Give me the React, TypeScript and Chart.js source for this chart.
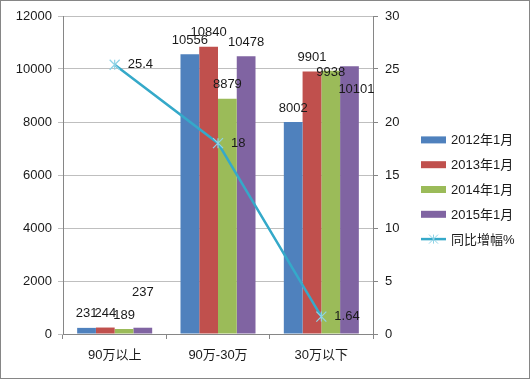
import React, { useEffect, useRef } from 'react';
import { Chart, registerables } from 'chart.js';

Chart.register(...registerables);

const categories = ['90万以上', '90万-30万', '30万以下'];
const seriesNames = ['2012年1月', '2013年1月', '2014年1月', '2015年1月'];
const series2012 = [231, 10556, 8002];
const series2013 = [244, 10840, 9901];
const series2014 = [189, 8879, 9938];
const series2015 = [237, 10478, 10101];
const lineName = '同比增幅%';
const growthPct = [25.4, 18, 1.64];

const leftMax = 12000;
const leftStep = 2000;
const rightMax = 30;
const rightStep = 5;

const barColors = ['#4F81BD', '#C0504D', '#9BBB59', '#8064A2'];
const lineColor = '#35A9C9';
const markerColor = '#8fd3e6';
const FONT = '"Liberation Sans", "Noto Sans CJK SC", sans-serif';
const TEXT = '#1a1a1a';

// label nudges (dataset-index) in px, mimicking the reference placement
const labelNudges: Record<string, [number, number]> = {
  '3-0': [0, -21],
  '2-2': [0, 16],
  '3-2': [7, 37],
};

function drawAsterisk(ctx: CanvasRenderingContext2D, cx: number, cy: number, r: number) {
  ctx.beginPath();
  ctx.moveTo(cx - r, cy - r); ctx.lineTo(cx + r, cy + r);
  ctx.moveTo(cx - r, cy + r); ctx.lineTo(cx + r, cy - r);
  ctx.moveTo(cx, cy - r); ctx.lineTo(cx, cy + r);
  ctx.stroke();
}

const labelsPlugin = {
  id: 'valueLabels',
  afterDatasetsDraw(chart: any) {
    const ctx = chart.ctx;
    ctx.save();
    chart.data.datasets.forEach((ds: any, di: number) => {
      const meta = chart.getDatasetMeta(di);
      meta.data.forEach((el: any, i: number) => {
        const v = ds.data[i];
        ctx.font = `13px ${FONT}`;
        ctx.fillStyle = TEXT;
        ctx.textBaseline = 'middle';
        if (ds.type === 'line') {
          ctx.strokeStyle = markerColor;
          ctx.lineWidth = 1.2;
          drawAsterisk(ctx, el.x, el.y, 5);
          ctx.textAlign = 'left';
          ctx.fillText(String(v), el.x + 13, el.y);
        } else {
          const n = labelNudges[`${di}-${i}`] || [0, 0];
          ctx.textAlign = 'center';
          ctx.fillText(String(v), el.x + n[0], el.y - 14 + n[1]);
        }
      });
    });
    ctx.restore();
  },
};

const legendPlugin = {
  id: 'customLegend',
  afterDraw(chart: any) {
    const ctx = chart.ctx;
    const x0 = chart.chartArea.right + 48;
    const rowH = 24.8;
    const items = [...seriesNames, lineName];
    const yStart = chart.height / 2 - (rowH * (items.length - 1)) / 2;
    ctx.save();
    ctx.font = `13px ${FONT}`;
    ctx.textBaseline = 'middle';
    ctx.textAlign = 'left';
    items.forEach((name, i) => {
      const y = yStart + i * rowH;
      if (i < seriesNames.length) {
        ctx.fillStyle = barColors[i];
        ctx.fillRect(x0, y - 3.5, 25, 7);
      } else {
        ctx.strokeStyle = lineColor;
        ctx.lineWidth = 2.5;
        ctx.beginPath();
        ctx.moveTo(x0, y);
        ctx.lineTo(x0 + 25, y);
        ctx.stroke();
        ctx.strokeStyle = markerColor;
        ctx.lineWidth = 1;
        drawAsterisk(ctx, x0 + 12.5, y, 4.5);
      }
      ctx.fillStyle = TEXT;
      ctx.fillText(name, x0 + 30, y + 1);
    });
    ctx.restore();
  },
};

export default function App() {
  const ref = useRef<HTMLCanvasElement | null>(null);
  useEffect(() => {
    document.body.style.margin = '0';
    if (!ref.current) return;
    const barSeries = [series2012, series2013, series2014, series2015];
    const chart = new Chart(ref.current, {
      type: 'bar',
      data: {
        labels: categories,
        datasets: [
          ...barSeries.map((d, i) => ({
            type: 'bar' as const,
            label: seriesNames[i],
            data: d,
            backgroundColor: barColors[i],
            yAxisID: 'y',
            order: 1,
            categoryPercentage: 0.726,
            barPercentage: 1,
          })),
          {
            type: 'line' as const,
            label: lineName,
            data: growthPct,
            borderColor: lineColor,
            borderWidth: 2.5,
            pointRadius: 0,
            yAxisID: 'y1',
            order: 0,
            tension: 0,
          } as any,
        ],
      },
      options: {
        responsive: false,
        animation: false,
        layout: { padding: { left: 0, right: 116, top: 15, bottom: 14 } },
        plugins: { legend: { display: false }, tooltip: { enabled: false } },
        scales: {
          x: {
            grid: { drawOnChartArea: false, drawTicks: true, tickLength: 5, color: '#868686', offset: true },
            border: { color: '#868686' },
            ticks: { font: { family: FONT, size: 13 }, color: TEXT, padding: 9 },
            afterFit: (s: any) => { s.height = 30; },
          },
          y: {
            position: 'left',
            min: 0,
            max: leftMax,
            ticks: {
              stepSize: leftStep,
              font: { family: FONT, size: 13 },
              color: TEXT,
              padding: 6,
              callback: (v: any) => String(v),
            },
            grid: { color: '#BFBFBF', tickLength: 5 },
            border: { color: '#868686' },
            afterFit: (s: any) => { s.width = 62; },
          },
          y1: {
            position: 'right',
            min: 0,
            max: rightMax,
            ticks: {
              stepSize: rightStep,
              font: { family: FONT, size: 13 },
              color: TEXT,
              padding: 7,
              callback: (v: any) => String(v),
            },
            grid: { drawOnChartArea: false, tickLength: 5, color: '#868686' },
            border: { color: '#868686' },
            afterFit: (s: any) => { s.width = 40; },
          },
        },
      },
      plugins: [labelsPlugin, legendPlugin],
    });
    return () => chart.destroy();
  }, []);
  return (
    <div style={{ width: 530, height: 379, boxSizing: 'border-box', border: '1px solid #868686', background: '#fff' }}>
      <canvas ref={ref} width={528} height={377} style={{ display: 'block', width: 528, height: 377 }} />
    </div>
  );
}
